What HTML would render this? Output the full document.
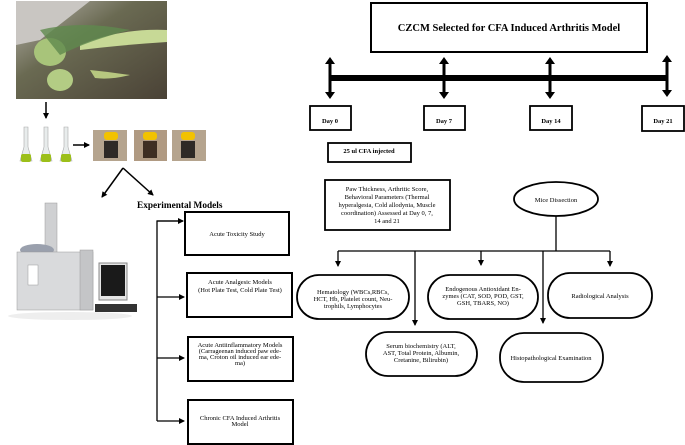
<!DOCTYPE html>
<html><head><style>
body{margin:0;background:#fff}
svg{display:block;font-family:"Liberation Serif",serif}
</style></head><body>
<svg width="685" height="445" viewBox="0 0 685 445" xmlns="http://www.w3.org/2000/svg">
<defs>
<marker id="a" markerWidth="6" markerHeight="6" refX="5" refY="3" orient="auto" markerUnits="userSpaceOnUse"><path d="M0,0 L6,3 L0,6z" fill="#000"/></marker>
<linearGradient id="pg" x1="0" y1="0" x2="1" y2="1"><stop offset="0" stop-color="#b8b4ad"/><stop offset="0.4" stop-color="#6a6a52"/><stop offset="1" stop-color="#4a4236"/></linearGradient>
</defs>
<rect x="16" y="1" width="151" height="98" fill="url(#pg)"/>
<path d="M16 1 L90 1 L40 40 L16 45z" fill="#c9c6c2"/>
<ellipse cx="50" cy="52" rx="16" ry="14" fill="#a8c47a"/>
<ellipse cx="60" cy="80" rx="13" ry="11" fill="#b3cc84"/>
<path d="M80 45 Q120 28 167 30 L167 42 Q120 45 80 50z" fill="#c7d996"/>
<path d="M40 30 Q80 20 130 30 Q90 40 60 55z" fill="#5f8a4e" opacity="0.8"/>
<path d="M90 70 Q110 72 130 75 Q110 80 95 78z" fill="#b7c77f"/>
<line x1="46" y1="102" x2="46" y2="118" stroke="#000" stroke-width="1.5" marker-end="url(#a)"/>
<g fill="#e8ecec" stroke="#aaa" stroke-width="0.6">
<path d="M24 127 h4 v20 l4 14 h-12 l4 -14z"/><path d="M44 127 h4 v20 l4 14 h-12 l4 -14z"/><path d="M64 127 h4 v20 l4 14 h-12 l4 -14z"/>
</g>
<g fill="#9cbf1a"><rect x="21" y="154" width="10" height="8" rx="2"/><rect x="41" y="154" width="10" height="8" rx="2"/><rect x="61" y="154" width="10" height="8" rx="2"/></g>
<line x1="73" y1="145" x2="89" y2="145" stroke="#000" stroke-width="1.5" marker-end="url(#a)"/>
<g>
<rect x="93" y="130" width="34" height="31" fill="#b5a48e"/><rect x="134" y="130" width="33" height="31" fill="#b09a82"/><rect x="172" y="130" width="34" height="31" fill="#b5a48e"/>
<rect x="104" y="132" width="14" height="8" rx="3" fill="#f2c200"/><rect x="143" y="132" width="14" height="8" rx="3" fill="#f2c200"/><rect x="181" y="132" width="14" height="8" rx="3" fill="#f2c200"/>
<rect x="104" y="141" width="14" height="17" fill="#2e2a26"/><rect x="143" y="141" width="14" height="17" fill="#3e2e22"/><rect x="181" y="141" width="14" height="17" fill="#2e2a26"/>
</g>
<line x1="123" y1="168" x2="102" y2="197" stroke="#000" stroke-width="1.5" marker-end="url(#a)"/>
<line x1="123" y1="168" x2="153" y2="195" stroke="#000" stroke-width="1.5" marker-end="url(#a)"/>
<text x="137" y="208" font-size="9.3" font-weight="bold">Experimental Models</text>
<ellipse cx="70" cy="316" rx="62" ry="4" fill="#eee"/>
<rect x="45" y="203" width="12" height="50" fill="#cfd0d2" stroke="#999" stroke-width="0.5"/>
<ellipse cx="37" cy="250" rx="17" ry="6" fill="#9aa0ad"/>
<rect x="17" y="252" width="76" height="58" fill="#d9dadc" stroke="#999" stroke-width="0.5"/>
<rect x="28" y="265" width="10" height="20" fill="#fff" stroke="#999" stroke-width="0.5"/>
<rect x="80" y="250" width="13" height="60" fill="#c4c5c7" stroke="#999" stroke-width="0.5"/>
<rect x="99" y="263" width="28" height="37" fill="#e5e5e5" stroke="#888"/>
<rect x="101" y="265" width="24" height="31" fill="#1a1a1a"/>
<rect x="95" y="304" width="42" height="8" fill="#333"/>
<g fill="none" stroke="#000" stroke-width="2">
<rect x="185" y="212" width="104" height="43"/>
<rect x="187" y="273" width="105" height="44"/>
<rect x="188" y="337" width="105" height="44"/>
<rect x="188" y="400" width="105" height="44"/>
</g>
<g stroke="#000" stroke-width="1.3" fill="none">
<path d="M183 221 H157 V421"/>
<line x1="157" y1="221" x2="183" y2="221" marker-end="url(#a)"/>
<line x1="157" y1="297" x2="184" y2="297" marker-end="url(#a)"/>
<line x1="157" y1="358" x2="184" y2="358" marker-end="url(#a)"/>
<line x1="157" y1="421" x2="184" y2="421" marker-end="url(#a)"/>
</g>
<g font-size="6.5" text-anchor="middle">
<text x="237" y="236">Acute Toxicity Study</text>
<text x="240" y="284">Acute Analgesic Models</text><text x="240" y="292">(Hot Plate Test, Cold Plate Test)</text>
<text x="240" y="347">Acute Antiinflammatory Models</text><text x="240" y="353">(Carrageenan induced paw ede-</text><text x="240" y="359">ma, Croton oil induced ear ede-</text><text x="240" y="365">ma)</text>
<text x="240" y="420">Chronic CFA Induced Arthritis</text><text x="240" y="426">Model</text>
</g>
<rect x="371" y="3" width="276" height="49" fill="none" stroke="#000" stroke-width="2"/>
<text x="509" y="31" font-size="10.5" font-weight="bold" text-anchor="middle">CZCM Selected for CFA Induced Arthritis Model</text>
<rect x="330" y="75" width="337" height="6" fill="#000"/>
<g fill="#000">
<g id="ar"><rect x="328.5" y="62" width="3" height="32"/><path d="M325 64 L330 57 L335 64z M325 92 L330 99 L335 92z"/></g>
<use href="#ar" x="114"/><use href="#ar" x="220"/><use href="#ar" x="337" y="-2"/>
</g>
<g fill="none" stroke="#000" stroke-width="1.8">
<rect x="310" y="106" width="41" height="24"/><rect x="424" y="106" width="41" height="24"/><rect x="530" y="106" width="42" height="24"/><rect x="642" y="106" width="42" height="25"/>
<rect x="328" y="143" width="83" height="19"/>
<rect x="325" y="180" width="125" height="50"/>
<ellipse cx="556" cy="199" rx="42" ry="17"/>
</g>
<g font-size="6.5" font-weight="bold" text-anchor="middle">
<text x="330" y="123">Day 0</text><text x="444" y="123">Day 7</text><text x="551" y="123">Day 14</text><text x="663" y="123">Day 21</text>
<text x="369" y="153">25 ul CFA injected</text>
</g>
<g font-size="6.5" text-anchor="middle">
<text x="387" y="191">Paw Thickness, Arthritic Score,</text>
<text x="387" y="199">Behavioral Parameters (Thermal</text>
<text x="387" y="207">hyperalgesia, Cold allodynia, Muscle</text>
<text x="387" y="215">coordination) Assessed at Day 0, 7,</text>
<text x="387" y="223">14 and 21</text>
<text x="556" y="202">Mice Dissection</text>
</g>
<g stroke="#000" stroke-width="1.3" fill="none">
<path d="M556 216 V251 M338 251 H610"/>
<line x1="338" y1="251" x2="338" y2="266" marker-end="url(#a)"/>
<line x1="415" y1="251" x2="415" y2="325" marker-end="url(#a)"/>
<line x1="481" y1="251" x2="481" y2="265" marker-end="url(#a)"/>
<line x1="543" y1="251" x2="543" y2="323" marker-end="url(#a)"/>
<line x1="610" y1="251" x2="610" y2="266" marker-end="url(#a)"/>
</g>
<g fill="none" stroke="#000" stroke-width="1.8">
<rect x="297" y="275" width="112" height="44" rx="22"/>
<rect x="428" y="275" width="110" height="44" rx="22"/>
<rect x="548" y="273" width="104" height="45" rx="22"/>
<rect x="366" y="332" width="111" height="44" rx="22"/>
<rect x="500" y="333" width="103" height="49" rx="24"/>
</g>
<g font-size="6.5" text-anchor="middle">
<text x="353" y="294">Hematology (WBCs,RBCs,</text><text x="353" y="301">HCT, Hb, Platelet count, Neu-</text><text x="353" y="308">trophils, Lymphocytes</text>
<text x="483" y="291">Endogenous Antioxidant En-</text><text x="483" y="298">zymes (CAT, SOD, POD, GST,</text><text x="483" y="305">GSH, TBARS, NO)</text>
<text x="600" y="298">Radiological Analysis</text>
<text x="421" y="348">Serum biochemistry (ALT,</text><text x="421" y="355">AST, Total Protein, Albumin,</text><text x="421" y="362">Cretanine, Bilirubin)</text>
<text x="551" y="360">Histopathological Examination</text>
</g>
</svg>
</body></html>
